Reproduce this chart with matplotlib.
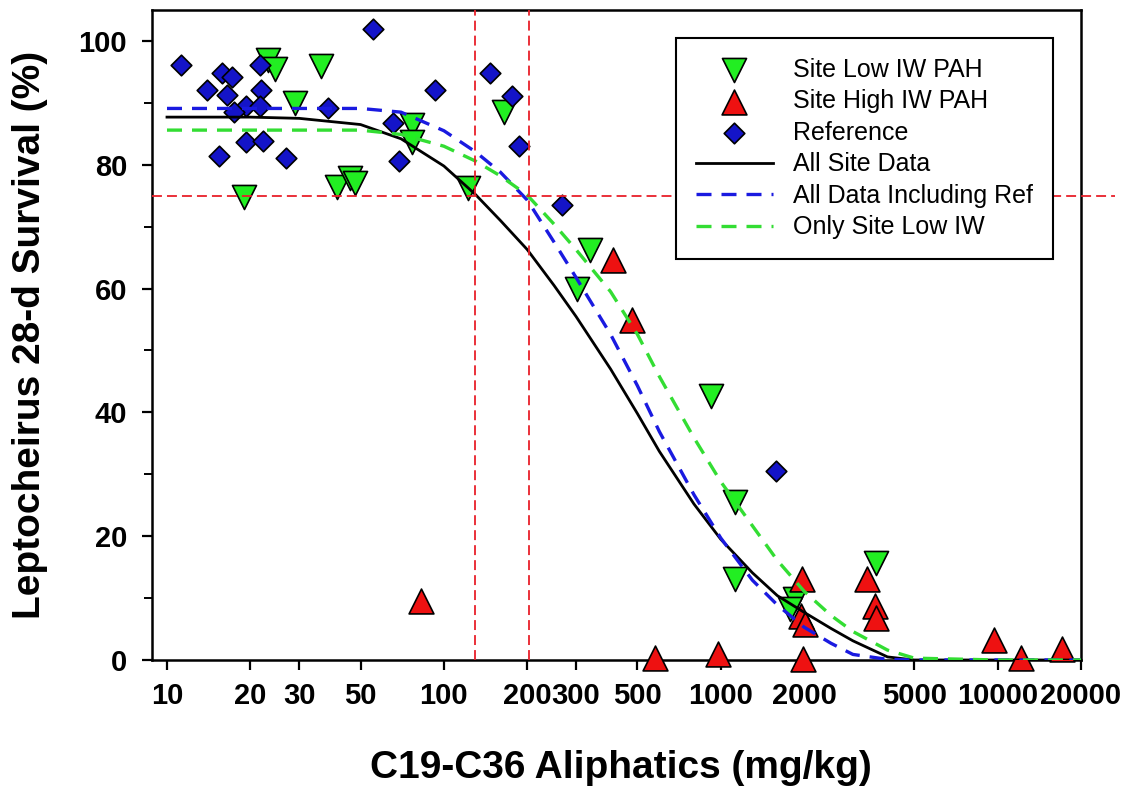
import matplotlib
matplotlib.use("Agg")
import matplotlib.pyplot as plt

plt.rcParams['font.family'] = ['Liberation Sans', 'DejaVu Sans']

# scatter data (mg/kg, % survival)
low_x = [23.2, 24.5, 36.0, 29.1, 19.0, 41.0, 45.8, 47.7, 76.4, 76.4, 122.4, 165.1,
         336.6, 301.4, 920, 1130, 1123, 1850, 1774, 3648]
low_y = [97.0, 95.4, 96.0, 89.9, 74.8, 76.4, 77.8, 77.0, 86.4, 83.7, 76.2, 88.6,
         66.2, 60.0, 42.7, 25.5, 13.1, 9.9, 8.3, 15.7]

high_x = [408.6, 476, 1966, 1956, 2011, 3384, 3618, 3648, 9674, 12180, 17120,
          581, 978, 1982, 82.6]
high_y = [64.6, 54.9, 13.1, 7.1, 5.8, 13.1, 8.7, 6.8, 3.2, 0.4, 1.7,
          0.3, 0.9, 0.1, 9.5]

ref_x = [11.2, 15.8, 17.1, 14.0, 16.5, 21.7, 21.8, 19.3, 21.7, 17.5, 38.0, 55.3,
         92.8, 65.3, 19.3, 22.3, 15.4, 26.8, 68.8, 146.6, 175.6, 187.0, 266, 1580]
ref_y = [96.1, 94.9, 94.1, 92.0, 91.3, 96.1, 92.0, 89.5, 89.5, 88.5, 89.1, 101.9,
         92.0, 86.8, 83.7, 83.9, 81.4, 81.1, 80.6, 94.9, 91.1, 83.1, 73.5, 30.5]

# fitted curves
curve_x = [10, 20, 30, 50, 70, 100, 130, 160, 200, 250, 300, 400, 500, 600, 800,
           1000, 1300, 1600, 2000, 2500, 3000, 4000, 5000, 10000, 20000]
all_site = [87.7, 87.7, 87.5, 86.5, 84.2, 79.8, 75.2, 71.0, 66.3, 60.5, 55.5, 47.0,
            39.8, 33.7, 25.2, 19.5, 14.1, 10.4, 7.7, 5.1, 3.1, 0.5, 0.0, 0.0, 0.0]
all_with_ref = [89.1, 89.1, 89.1, 89.1, 88.5, 85.5, 82.1, 78.8, 74.3, 67.5, 61.8, 52.6,
                44.3, 36.9, 26.7, 19.7, 12.9, 8.9, 5.3, 2.7, 0.9, 0.1, 0.0, 0.0, 0.0]
only_low = [85.6, 85.6, 85.6, 85.6, 84.9, 83.0, 80.6, 78.2, 75.1, 70.4, 66.3, 59.5,
            52.6, 45.8, 35.9, 28.8, 21.7, 16.1, 11.1, 7.2, 4.6, 1.6, 0.3, 0.0, 0.0]

# reference lines
ec_x = [130, 203]
ec_y = 75

xticks = [10, 20, 30, 50, 100, 200, 300, 500, 1000, 2000, 5000, 10000, 20000]
yticks = [0, 20, 40, 60, 80, 100]

fig = plt.figure(figsize=(11.22, 7.89), dpi=100)
ax = fig.add_axes([0.1355, 0.1635, 0.828, 0.8238])

ax.scatter(low_x, low_y, marker='v', s=300, c='#22ee22', edgecolors='black',
           linewidths=1.2, label='Site Low IW PAH', zorder=3, clip_on=False)
ax.scatter(high_x, high_y, marker='^', s=320, c='#ee1111', edgecolors='black',
           linewidths=1.2, label='Site High IW PAH', zorder=3, clip_on=False)
ax.scatter(ref_x, ref_y, marker='D', s=110, c='#1414c8', edgecolors='black',
           linewidths=1.2, label='Reference', zorder=3, clip_on=False)

ax.plot(curve_x, all_site, color='black', lw=2.0, label='All Site Data', zorder=4)
ax.plot(curve_x, all_with_ref, color='#1a1ae0', lw=2.4, dashes=(4.5, 3),
        label='All Data Including Ref', zorder=4)
ax.plot(curve_x, only_low, color='#33dd33', lw=2.4, dashes=(4.5, 3),
        label='Only Site Low IW', zorder=4)

for v in ec_x:
    ax.axvline(v, color='#e8202a', lw=1.3, dashes=(5.5, 2.8), zorder=5)
ax.axhline(ec_y, xmin=0, xmax=1.037, color='#e8202a', lw=1.3, dashes=(5.5, 2.8),
           clip_on=False, zorder=5)

ax.set_xscale('log')
ax.set_xlim(8.83, 20000)
ax.set_ylim(0, 105)

ax.set_xticks(xticks)
ax.set_xticklabels([str(t) for t in xticks])
ax.xaxis.set_minor_locator(matplotlib.ticker.NullLocator())
ax.set_yticks(yticks)
ax.set_yticks([10, 30, 50, 70, 90], minor=True)

ax.tick_params(axis='both', which='major', direction='out', length=7, width=1.6,
               labelsize=21)
ax.tick_params(axis='y', which='minor', direction='out', length=6, width=1.4)
ax.tick_params(axis='x', pad=9)
ax.tick_params(axis='y', pad=11)
for lab in ax.get_xticklabels() + ax.get_yticklabels():
    lab.set_fontweight('bold')

for sp in ax.spines.values():
    sp.set_linewidth(1.8)

ax.set_xlabel('C19-C36 Aliphatics (mg/kg)', fontsize=28, fontweight='bold')
ax.set_ylabel('Leptocheirus 28-d Survival (%)', fontsize=28, fontweight='bold')
ax.xaxis.set_label_coords(0.505, -0.138)
ax.xaxis.label.set_va('top')
ax.yaxis.set_label_coords(-0.112, 0.5)

leg = ax.legend(loc='upper right', bbox_to_anchor=(0.970, 0.957), borderaxespad=0,
                fontsize=18, handlelength=3.1, handletextpad=0.8, labelspacing=0.3,
                borderpad=0.8, fancybox=False, framealpha=1, edgecolor='black',
                scatterpoints=1)
leg.get_frame().set_linewidth(1.5)
leg.set_zorder(10)

fig.savefig('out.png', dpi=100)
